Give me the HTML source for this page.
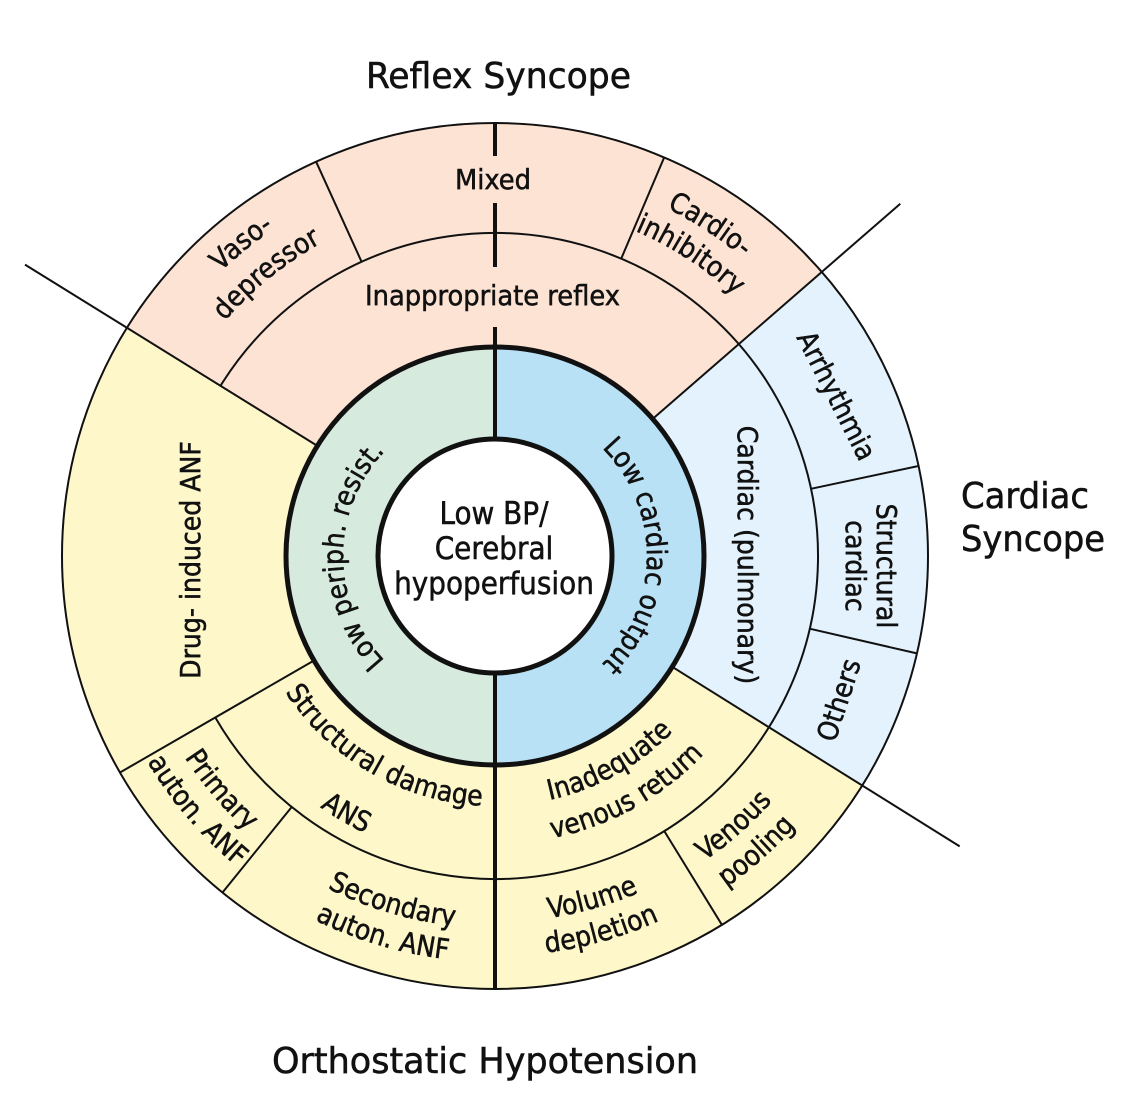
<!DOCTYPE html>
<html><head><meta charset="utf-8">
<style>
html,body{margin:0;padding:0;background:#fff;}
svg{display:block;}
text{font-family:"DejaVu Sans Condensed","DejaVu Sans","Liberation Sans",sans-serif;fill:#111;stroke:#111;stroke-width:0.5;}
</style></head>
<body>
<svg width="1141" height="1107" viewBox="0 0 1141 1107" xmlns="http://www.w3.org/2000/svg">
<defs>
<path id="pL" d="M495,708 A152,152 0 0 1 495,404"/>
<path id="pR" d="M495,404 A152,152 0 0 1 495,708"/>
<path id="s1" d="M278.5,681 A250,250 0 0 0 495,806"/>
<path id="s2" d="M230,709 A306,306 0 0 0 495,862"/>
<path id="i1" d="M495,806 A250,250 0 0 0 707,688.5"/>
<path id="i2" d="M495,844 A288,288 0 0 0 739.2,708.6"/>
<path id="pr1" d="M174.6,741 A370,370 0 0 0 262.2,843.5"/>
<path id="pr2" d="M145.1,758 A404,404 0 0 0 240.8,869.9"/>
<path id="se1" d="M281.6,860.7 A372,372 0 0 0 508,927.8"/>
<path id="se2" d="M262.1,888.6 A406,406 0 0 0 509.2,961.8"/>
<path id="v1" d="M495,922 A366,366 0 0 0 686.8,867.7"/>
<path id="v2" d="M495,956 A400,400 0 0 0 704.6,896.7"/>
<path id="vp1" d="M668.7,882.7 A370,370 0 0 0 798.1,768.2"/>
<path id="vp2" d="M684.7,912.7 A404,404 0 0 0 826,787.7"/>
<path id="va1" d="M175.4,323.8 A395,395 0 0 1 334.4,195.2"/>
<path id="va2" d="M205.4,345.6 A358,358 0 0 1 349.4,228.9"/>
<path id="c1" d="M614.9,187 A388,388 0 0 1 783.3,296.4"/>
<path id="c2" d="M604.4,219.3 A354,354 0 0 1 758.1,319.1"/>
</defs>

<circle cx="495" cy="556" r="433" fill="#fdf7c9"/>
<path d="M495,556 L127,327.8 A433,433 0 0 1 821.8,271.9 Z" fill="#fde3d4"/>
<path d="M495,556 L821.8,271.9 A433,433 0 0 1 862.2,785.4 Z" fill="#e3f2fc"/>
<circle cx="495" cy="556" r="433" fill="none" stroke="#111" stroke-width="2"/>

<g stroke="#111" stroke-width="2" fill="none">
<line x1="25" y1="264.6" x2="317.4" y2="445.9"/>
<line x1="900.3" y1="203.7" x2="652.7" y2="418.9"/>
<line x1="959.7" y1="846.4" x2="672.2" y2="666.8"/>
<line x1="314" y1="660.5" x2="120" y2="772.5"/>
<line x1="291.7" y1="807" x2="222.5" y2="892.5"/>
<line x1="664.3" y1="831.1" x2="721.9" y2="924.8"/>
<line x1="361.6" y1="261.8" x2="316.1" y2="161.7"/>
<line x1="621.2" y1="258.7" x2="664.2" y2="157.4"/>
<line x1="810.9" y1="488.8" x2="918.5" y2="466"/>
<line x1="809.7" y1="628.7" x2="916.9" y2="653.4"/>
<path d="M220.5,385.8 A323,323 0 1 1 215.3,717.5"/>
</g>

<path d="M495,347 A209,209 0 0 0 495,765 Z" fill="#d6eadd"/>
<path d="M495,347 A209,209 0 0 1 495,765 Z" fill="#b9e1f6"/>
<circle cx="495" cy="556" r="209" fill="none" stroke="#111" stroke-width="5"/>
<circle cx="495" cy="556" r="117" fill="#fff" stroke="#111" stroke-width="5"/>

<g stroke="#111" stroke-width="4">
<line x1="495" y1="123" x2="495" y2="156"/>
<line x1="495" y1="203" x2="495" y2="267"/>
<line x1="495" y1="327" x2="495" y2="439"/>
<line x1="495" y1="673" x2="495" y2="989"/>
</g>

<text x="366" y="88" font-size="36" textLength="265" lengthAdjust="spacingAndGlyphs">Reflex Syncope</text>
<text x="961" y="508" font-size="36" textLength="128" lengthAdjust="spacingAndGlyphs">Cardiac</text>
<text x="961" y="551" font-size="36" textLength="144" lengthAdjust="spacingAndGlyphs">Syncope</text>
<text x="272" y="1073" font-size="36" textLength="426" lengthAdjust="spacingAndGlyphs">Orthostatic Hypotension</text>

<g font-size="31" text-anchor="middle">
<text x="494" y="524">Low BP/</text>
<text x="494" y="559">Cerebral</text>
<text x="494" y="594">hypoperfusion</text>
</g>

<g font-size="28">
<text x="455" y="189" textLength="76" lengthAdjust="spacingAndGlyphs">Mixed</text>
<text x="365" y="305" textLength="255" lengthAdjust="spacingAndGlyphs">Inappropriate reflex</text>
</g>

<g font-size="28" text-anchor="middle">
<text><textPath href="#pL" startOffset="50%">Low periph. resist.</textPath></text>
<text><textPath href="#pR" startOffset="50%">Low cardiac output</textPath></text>
<text><textPath href="#s1" startOffset="50%">Structural damage</textPath></text>
<text><textPath href="#s2" startOffset="50%">ANS</textPath></text>
<text><textPath href="#i1" startOffset="50%">Inadequate</textPath></text>
<text><textPath href="#i2" startOffset="50%">venous return</textPath></text>
<text><textPath href="#pr1" startOffset="50%">Primary</textPath></text>
<text><textPath href="#pr2" startOffset="50%">auton. ANF</textPath></text>
<text><textPath href="#se1" startOffset="50%">Secondary</textPath></text>
<text><textPath href="#se2" startOffset="50%">auton. ANF</textPath></text>
<text><textPath href="#v1" startOffset="50%">Volume</textPath></text>
<text><textPath href="#v2" startOffset="50%">depletion</textPath></text>
<text><textPath href="#vp1" startOffset="50%">Venous</textPath></text>
<text><textPath href="#vp2" startOffset="50%">pooling</textPath></text>
<text><textPath href="#va1" startOffset="50%">Vaso-</textPath></text>
<text><textPath href="#va2" startOffset="50%">depressor</textPath></text>
<text><textPath href="#c1" startOffset="50%">Cardio-</textPath></text>
<text><textPath href="#c2" startOffset="50%">inhibitory</textPath></text>

<text transform="translate(200,560) rotate(-90)">Drug- induced ANF</text>
<text transform="translate(738,555) rotate(90)">Cardiac (pulmonary)</text>
<text transform="translate(828,400) rotate(63)">Arrhythmia</text>
<text transform="translate(877,566) rotate(90)">Structural</text>
<text transform="translate(846,566) rotate(90)">cardiac</text>
<text transform="translate(848,703) rotate(-72)">Others</text>
</g>
</svg>
</body></html>
